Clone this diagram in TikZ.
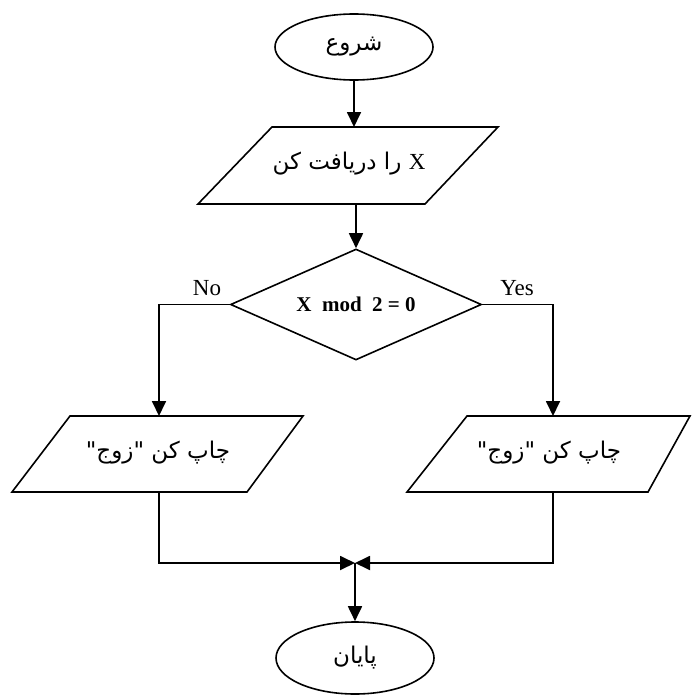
\documentclass[tikz,border=0pt]{standalone}
\usepackage{fontspec}
\setmainfont{Liberation Serif}
\newfontfamily\arabicfont[Script=Arabic]{DejaVu Sans}
\TeXXeTstate=1
\usetikzlibrary{shapes.geometric,arrows.meta}
\begin{document}
\begin{tikzpicture}[x=1pt,y=-1pt,
  line/.style={line width=1.8pt},
  arr/.style={line,-{Triangle[length=15pt,width=14pt]}},
  shapeline/.style={draw,line width=1.6pt,line join=miter},
  arfont/.style={font=\arabicfont\fontsize{23}{26}\selectfont},
  term/.style={ellipse,shapeline,inner sep=0pt,minimum width=158pt,minimum height=66pt,arfont},
  iotext/.style={inner sep=0pt,arfont},
  decision/.style={diamond,shapeline,inner sep=0pt,aspect=2.2,minimum width=251pt,minimum height=111pt,font=\bfseries\fontsize{21}{24}\selectfont},
  lbl/.style={inner sep=0pt,font=\fontsize{23}{26}\selectfont}
]
\useasboundingbox (0,0) rectangle (691,696);

% start
\node[term] (start) at (354,47) {\beginR شروع\endR};

% input parallelogram
\draw[shapeline] (272,127) -- (498,127) -- (425,204) -- (198,204) -- cycle;
\node[iotext] (in) at (349,164) {\beginR{\rmfamily\fontsize{23}{26}\selectfont X} را دریافت کن\endR};
\coordinate (inT) at (354,127);
\coordinate (inB) at (356,204);

% decision
\node[decision] (cond) at (356,304.5) {X\ \ mod\ \ 2 = 0};
\node[lbl] (no) at (207,288) {No};
\node[lbl] (yes) at (517,288) {Yes};

% left output
\draw[shapeline] (70,416) -- (303,416) -- (247,492) -- (12,492) -- cycle;
\node[iotext] (left) at (158,453) {\beginR چاپ کن "زوج"\endR};
\coordinate (leftT) at (159,416);
\coordinate (leftB) at (159,492);

% right output
\draw[shapeline] (467,416) -- (690,416) -- (648,492) -- (407,492) -- cycle;
\node[iotext] (right) at (549,453) {\beginR چاپ کن "زوج"\endR};
\coordinate (rightT) at (553,416);
\coordinate (rightB) at (553,492);

% join and end
\coordinate (join) at (355,563);
\node[term,minimum height=72pt] (end) at (355,658) {\beginR پایان\endR};

% connectors
\draw[arr] (start.south) -- (inT);
\draw[arr] (inB) -- (cond.north);
\draw[arr] (cond.west) -| (leftT);
\draw[arr] (cond.east) -| (rightT);
\draw[arr] (leftB) |- (join);
\draw[arr] (rightB) |- (join);
\draw[arr] (join) -- (end.north);
\end{tikzpicture}
\end{document}
